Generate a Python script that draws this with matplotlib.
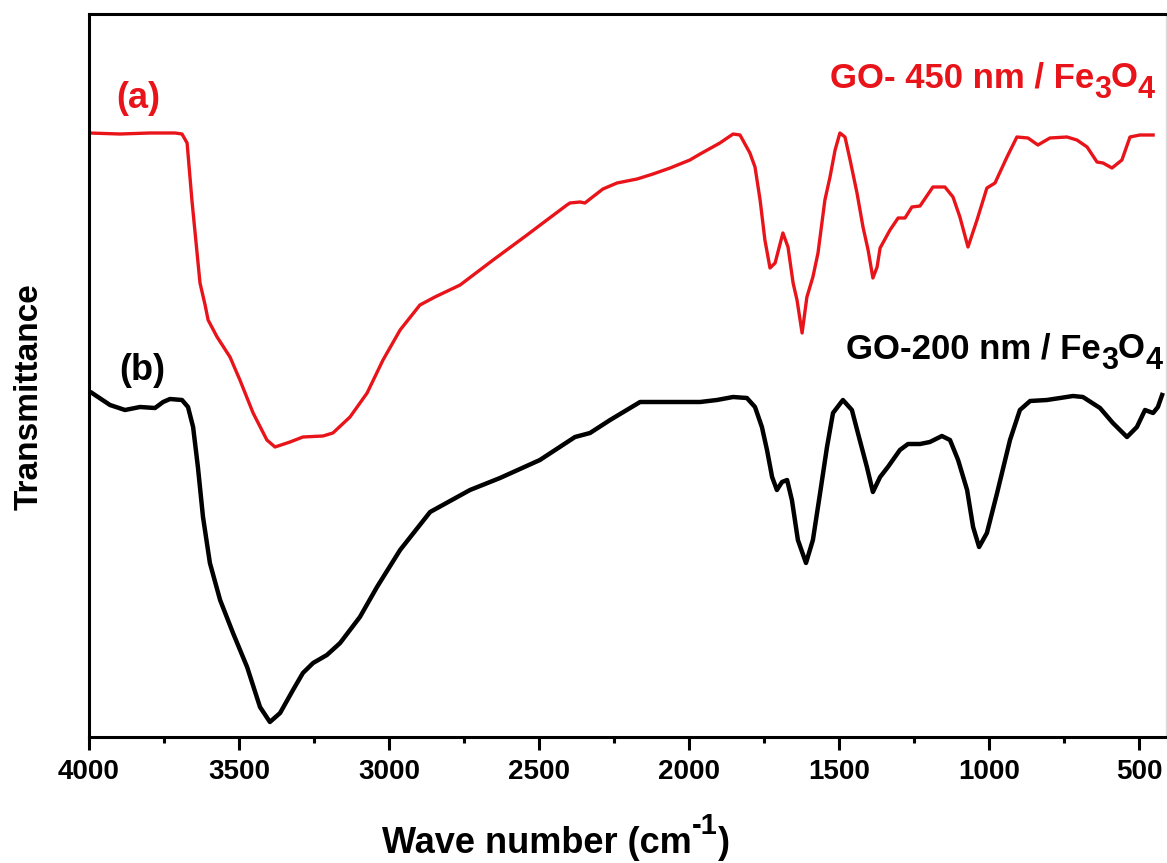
import matplotlib
matplotlib.use('Agg')
from matplotlib import pyplot as plt
from matplotlib.ticker import MultipleLocator

# FTIR spectra (transmittance in arbitrary units)
wn_a = [4000, 3897, 3797, 3713, 3690, 3673, 3657, 3630, 3613, 3603, 3573, 3530, 3497, 3453, 3407,
        3380, 3330, 3287, 3220, 3187, 3130, 3073, 3020, 2963, 2897, 2847, 2763, 2653, 2540, 2487,
        2407, 2397, 2363, 2347, 2330, 2287, 2240, 2173, 2120, 2063, 1997, 1963, 1897, 1853, 1830,
        1797, 1780, 1763, 1747, 1730, 1713, 1687, 1670, 1653, 1640, 1623, 1607, 1587, 1570, 1547,
        1530, 1513, 1497, 1480, 1463, 1440, 1420, 1403, 1387, 1373, 1363, 1330, 1303, 1280, 1257,
        1230, 1187, 1147, 1120, 1097, 1070, 1040, 1007, 980, 940, 907, 870, 837, 797, 740,
        707, 673, 640, 620, 590, 557, 530, 497, 453]
t_a = [604, 603, 604, 604, 603, 594, 537, 454, 432, 417, 400, 380, 357, 324, 297,
       290, 295, 300, 301, 304, 320, 344, 377, 407, 432, 440, 452, 477, 502, 514,
       532, 534, 535, 534, 538, 548, 554, 558, 563, 569, 577, 583, 594, 603, 602,
       584, 570, 537, 497, 469, 474, 504, 490, 454, 437, 404, 440, 460, 484, 537,
       560, 587, 604, 600, 577, 544, 510, 487, 459, 470, 489, 507, 519, 519, 530,
       531, 550, 550, 540, 520, 490, 517, 549, 554, 580, 600, 599, 592, 599, 600,
       597, 590, 575, 574, 569, 577, 600, 602, 602]

wn_b = [3990, 3930, 3880, 3830, 3780, 3753, 3730, 3690, 3670, 3653, 3637, 3620, 3597, 3563, 3520,
        3473, 3430, 3397, 3363, 3320, 3287, 3253, 3207, 3163, 3097, 3040, 2963, 2863, 2730, 2630,
        2497, 2380, 2330, 2263, 2163, 1963, 1907, 1853, 1807, 1780, 1757, 1740, 1723, 1707, 1690,
        1673, 1657, 1637, 1610, 1587, 1563, 1540, 1520, 1487, 1457, 1437, 1407, 1387, 1363, 1337,
        1297, 1270, 1230, 1197, 1157, 1130, 1103, 1073, 1053, 1033, 1007, 973, 930, 897, 863,
        807, 763, 720, 687, 630, 587, 540, 507, 480, 453, 437, 423]
t_b = [344, 332, 327, 330, 329, 335, 338, 337, 330, 310, 270, 220, 174, 137, 104,
       70, 30, 15, 24, 47, 64, 74, 82, 94, 120, 150, 187, 225, 247, 259,
       277, 300, 304, 317, 335, 335, 337, 340, 339, 330, 310, 287, 260, 247, 255,
       257, 237, 197, 174, 197, 244, 290, 324, 337, 327, 304, 270, 245, 260, 270,
       287, 293, 293, 295, 301, 297, 277, 247, 210, 190, 204, 244, 297, 327, 336,
       337, 339, 341, 340, 329, 314, 300, 310, 327, 324, 330, 342]

RED = '#e8141a'

plt.rcParams['font.family'] = ['Liberation Sans', 'DejaVu Sans']
plt.rcParams['font.weight'] = 'bold'

W, H = 1167, 863
fig = plt.figure(figsize=(W / 100, H / 100), dpi=100)
ax = fig.add_axes([89 / W, 1 - 737 / H, (1166 - 89) / W, (737 - 14) / H])

ax.plot(wn_a, t_a, color=RED, lw=2.4)
ax.plot(wn_b, t_b, color='black', lw=3.2)

ax.set_xlim(4000, 410)
ax.set_ylim(0, 723)
ax.xaxis.set_major_locator(MultipleLocator(500))
ax.xaxis.set_minor_locator(MultipleLocator(250))
ax.tick_params(axis='x', which='major', direction='out', length=9.5, width=2.2, labelsize=20, pad=6)
ax.tick_params(axis='x', which='minor', direction='out', length=4.5, width=2.2)
ax.set_yticks([])
for lab in ax.get_xticklabels():
    lab.set_fontweight('bold')

for side in ['left', 'bottom', 'top']:
    ax.spines[side].set_linewidth(2.2)
ax.spines['right'].set_linewidth(1)
ax.spines['right'].set_color('#dddddd')

renderer = fig.canvas.get_renderer()


def rich_text(x_px, y_px, parts, ha='right', color='black'):
    # parts: (text, fontsize, shift down in px); y_px is the baseline, from the top
    items = []
    for s, size, dy in parts:
        t = fig.text(0, 0, s, fontsize=size, fontweight='bold', color=color,
                     ha='left', va='baseline')
        items.append((t, t.get_window_extent(renderer).width, dy))
    total = sum(w for _, w, _ in items)
    x0 = {'right': x_px - total, 'center': x_px - total / 2}.get(ha, x_px)
    for t, w, dy in items:
        t.set_position((x0 / W, 1 - (y_px + dy) / H))
        x0 += w


rich_text(556, 853, [('Wave number (cm', 26, 0), ('-1', 21, -19), (')', 26, 0)], ha='center')
fig.text(29 / W, 1 - 397 / H, 'Transmittance', rotation=90, ha='center', va='center',
         fontsize=24, fontweight='bold')

fig.text(138 / W, 1 - 99 / H, '(a)', color=RED, ha='center', va='center',
         fontsize=26, fontweight='bold')
fig.text(142 / W, 1 - 370 / H, '(b)', color='black', ha='center', va='center',
         fontsize=26, fontweight='bold')
rich_text(1155, 87, [('GO- 450 nm / Fe', 25, 0), ('3', 22, 11), ('O', 25, 0), ('4', 22, 11)],
          color=RED)
rich_text(1162, 358, [('GO-200 nm / Fe', 25, 0), ('3', 22, 11), ('O', 25, 0), ('4', 22, 11)])

fig.savefig('out.png', dpi=100)
